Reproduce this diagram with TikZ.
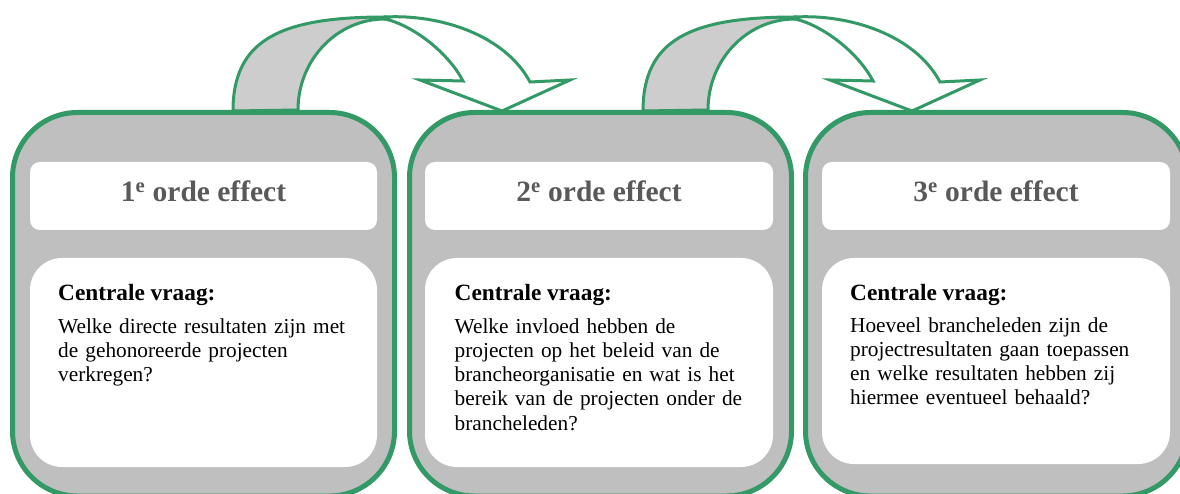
\documentclass[tikz,border=0pt]{standalone}
\usepackage{fontspec}
\setmainfont{Liberation Serif}
\definecolor{boxgreen}{RGB}{51,153,102}
\definecolor{boxgray}{RGB}{191,191,191}
\definecolor{backgray}{RGB}{205,205,205}
\definecolor{titlegray}{RGB}{89,89,89}
\tikzset{
  outerbox/.style={draw=boxgreen, line width=5pt, fill=boxgray, rounded corners=65pt},
  titlebox/.style={fill=white, rounded corners=10pt},
  contentbox/.style={fill=white, rounded corners=32pt},
  arrowline/.style={draw=boxgreen, line width=3pt, line join=miter, miter limit=6},
  titletext/.style={font=\fontsize{29.5}{34}\selectfont\bfseries, text=titlegray, anchor=base, inner sep=0pt},
  headtext/.style={font=\fontsize{23.3}{28}\selectfont\bfseries, anchor=base west, inner sep=0pt},
  bodytext/.style={font=\fontsize{21.3}{24.3}\selectfont, anchor=base west, inner sep=0pt, text width=320pt, align=left}
}
\newcommand\drawcurvedarrow[1]{%
  \begin{scope}[shift={(#1,0)}]
    \filldraw[arrowline, fill=backgray] (233,111) .. controls (233,40) and (280,17) .. (385,17)
      -- (385,19) arc[start angle=90, end angle=180, x radius=87pt, y radius=91pt] -- cycle;
    \filldraw[arrowline, fill=white] (385,17) .. controls (440,14) and (505,35) .. (530,82)
      -- (570,80) -- (502,111) -- (420,80) -- (463,81)
      .. controls (448,52) and (412,25) .. (385,19) -- cycle;
  \end{scope}}
\begin{document}
\begin{tikzpicture}[x=1pt,y=-1pt]
  \useasboundingbox (0,0) rectangle (1180,494);
  \clip (0,0) rectangle (1180,494);
  % arrows
  \drawcurvedarrow{0}
  \drawcurvedarrow{410}
  % outer boxes
  \draw[outerbox] (12.5,112.5) rectangle (394.5,496);
  \draw[outerbox] (409.5,112.5) rectangle (791.5,496);
  \draw[outerbox] (805.5,112.5) rectangle (1187.5,496);
  % title boxes
  \fill[titlebox] (30,162) rectangle (377,230);
  \fill[titlebox] (425,162) rectangle (773,230);
  \fill[titlebox] (822,162) rectangle (1170,230);
  % content boxes
  \fill[contentbox] (30,258) rectangle (377,467);
  \fill[contentbox] (425,258) rectangle (773,467);
  \fill[contentbox] (822,258) rectangle (1170,464);
  % titles
  \node[titletext] (t1) at (203.5,202) {1\textsuperscript{e} orde effect};
  \node[titletext] (t2) at (599,202) {2\textsuperscript{e} orde effect};
  \node[titletext] (t3) at (996,202) {3\textsuperscript{e} orde effect};
  % headings
  \node[headtext] (h1) at (58,300) {Centrale vraag:};
  \node[headtext] (h2) at (454.5,300) {Centrale vraag:};
  \node[headtext] (h3) at (850,300) {Centrale vraag:};
  % bodies
  \node[bodytext] (q1) at (58,333) {Welke directe resultaten zijn met\\de gehonoreerde projecten\\verkregen?};
  \node[bodytext] (q2) at (454.5,333) {Welke invloed hebben de\\projecten op het beleid van de\\brancheorganisatie en wat is het\\bereik van de projecten onder de\\brancheleden?};
  \node[bodytext] (q3) at (850,332) {Hoeveel brancheleden zijn de\\projectresultaten gaan toepassen\\en welke resultaten hebben zij\\hiermee eventueel behaald?};
\end{tikzpicture}
\end{document}
